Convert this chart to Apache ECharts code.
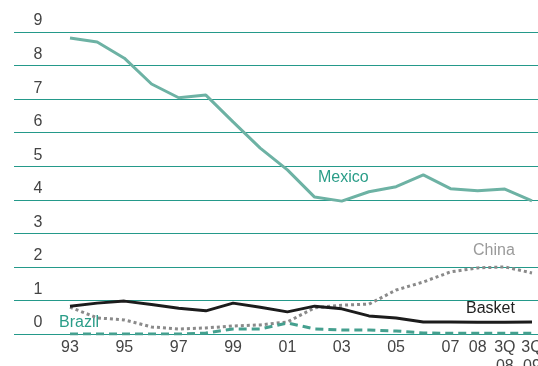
<!DOCTYPE html>
<html>
<head>
<meta charset="utf-8">
<script src="https://cdn.jsdelivr.net/npm/echarts@6/dist/echarts.min.js"></script>
<style>
  html, body { margin: 0; padding: 0; background: #fff; }
  #chart { width: 538px; height: 366px; }
</style>
</head>
<body>
<div id="chart"></div>
<script>
// Periods on the horizontal axis
const categories = ['93','94','95','96','97','98','99','00','01','02','03','04','05','06','07','08','3Q\n08','3Q\n09'];

// Series values per period
const mexico = [8.82, 8.70, 8.22, 7.45, 7.04, 7.12, 6.32, 5.54, 4.89, 4.08, 3.96, 4.24, 4.39, 4.74, 4.33, 4.27, 4.32, 3.97];
const china  = [0.80, 0.48, 0.42, 0.21, 0.15, 0.18, 0.24, 0.27, 0.36, 0.78, 0.86, 0.89, 1.31, 1.55, 1.85, 1.97, 2.00, 1.82];
const basket = [0.83, 0.92, 0.98, 0.88, 0.77, 0.69, 0.92, 0.80, 0.66, 0.83, 0.75, 0.54, 0.48, 0.36, 0.36, 0.35, 0.35, 0.36];
const brazil = [0.00, 0.00, 0.00, 0.00, 0.00, 0.03, 0.15, 0.15, 0.33, 0.15, 0.12, 0.12, 0.09, 0.03, 0.02, 0.02, 0.02, 0.02];

// Value axis range and ticks
const yMin = 0, yMax = 9, yStep = 1;

const FONT = '"Liberation Sans", Arial, sans-serif';
const TEAL = '#24998a';

const chart = echarts.init(document.getElementById('chart'), null, { renderer: 'canvas' });

chart.setOption({
  animation: false,
  backgroundColor: '#ffffff',
  textStyle: { fontFamily: FONT },
  grid: [
    // full-width grid carrying the horizontal rules and value labels
    { left: 14, right: 0, top: 32, bottom: 32, containLabel: false, outerBoundsMode: 'none' },
    // plotting grid for the series
    { left: 70, right: 6, top: 32, bottom: 32, containLabel: false, outerBoundsMode: 'none' }
  ],
  xAxis: [
    { gridIndex: 0, type: 'value', min: 0, max: 1, show: false },
    {
      gridIndex: 1,
      type: 'category',
      data: categories,
      boundaryGap: false,
      axisLine: { show: false },
      axisTick: { show: false },
      axisLabel: {
        interval: (i) => i % 2 === 0 || i >= 14,
        color: '#444',
        fontSize: 16,
        fontFamily: FONT,
        lineHeight: 19,
        margin: 4,
        hideOverlap: false
      }
    }
  ],
  yAxis: [
    {
      gridIndex: 0,
      type: 'value',
      min: yMin, max: yMax, interval: yStep,
      axisLine: { show: false },
      axisTick: { show: false },
      splitLine: { show: true, lineStyle: { color: TEAL, width: 1 } },
      axisLabel: {
        inside: true,
        margin: 24,
        align: 'center',
        verticalAlign: 'bottom',
        color: '#444',
        fontSize: 16,
        fontFamily: FONT,
        lineHeight: 16,
        padding: [0, 0, 3, 0],
        showMinLabel: true,
        showMaxLabel: true
      }
    },
    { gridIndex: 1, type: 'value', min: yMin, max: yMax, interval: yStep, show: false, splitLine: { show: false } }
  ],
  series: [
    {
      name: 'Mexico', type: 'line', xAxisIndex: 1, yAxisIndex: 1,
      data: mexico, symbol: 'none',
      lineStyle: { color: '#6db2a4', width: 3 }
    },
    {
      name: 'China', type: 'line', xAxisIndex: 1, yAxisIndex: 1,
      data: china, symbol: 'none',
      lineStyle: { color: '#8a8a8a', width: 3, type: [3, 3] }
    },
    {
      name: 'Basket', type: 'line', xAxisIndex: 1, yAxisIndex: 1,
      data: basket, symbol: 'none',
      lineStyle: { color: '#1c1c1c', width: 3 }
    },
    {
      name: 'Brazil', type: 'line', xAxisIndex: 1, yAxisIndex: 1,
      data: brazil, symbol: 'none',
      lineStyle: { color: '#45a08f', width: 3, type: [8, 5] }
    }
  ],
  graphic: [
    { type: 'text', left: 318, top: 170, style: { text: 'Mexico', fill: '#2a9d88', font: '16px ' + FONT } },
    { type: 'text', left: 473, top: 243, style: { text: 'China', fill: '#9a9a9a', font: '16px ' + FONT } },
    { type: 'text', left: 466, top: 301, style: { text: 'Basket', fill: '#222', font: '16px ' + FONT } },
    { type: 'text', left: 59, top: 315, style: { text: 'Brazil', fill: '#2a9d88', font: '16px ' + FONT } }
  ]
});
</script>
</body>
</html>
